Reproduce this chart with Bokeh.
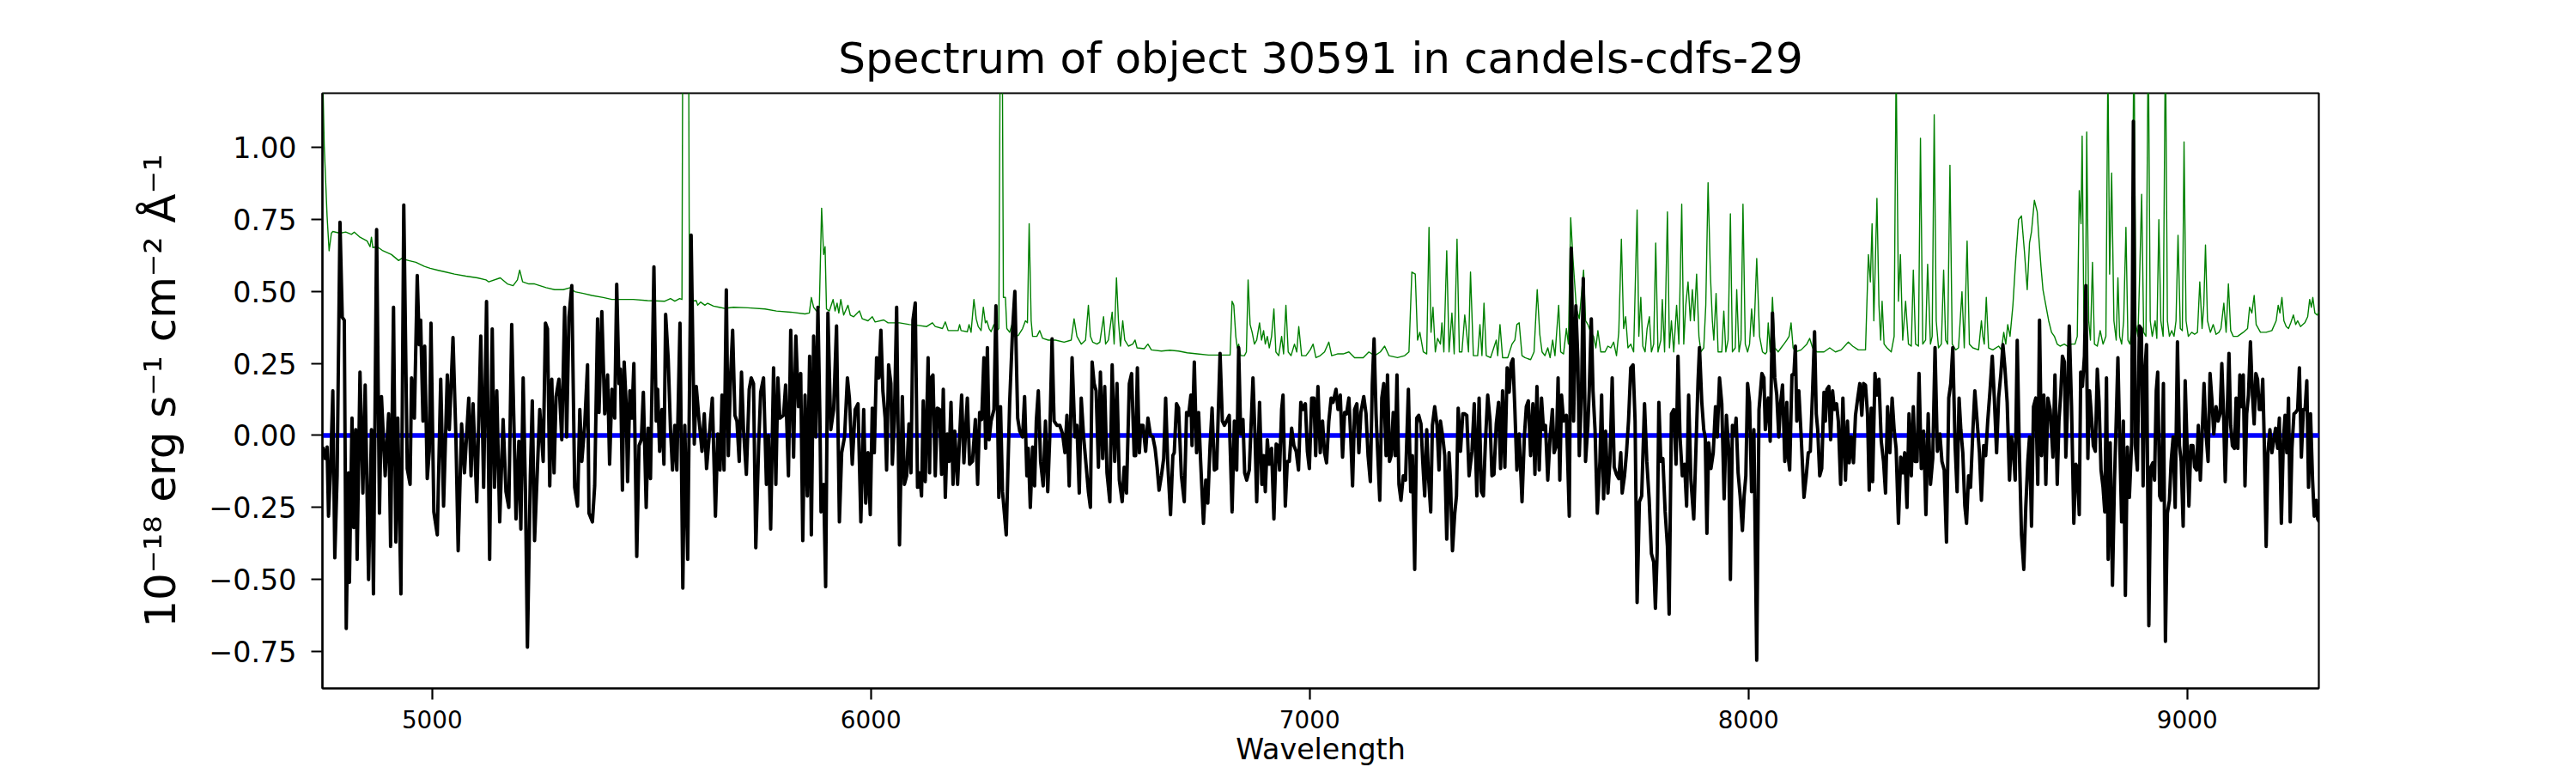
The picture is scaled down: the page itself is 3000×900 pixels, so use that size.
from bokeh.plotting import figure
from bokeh.models import Range1d, FixedTicker
from bokeh.embed import file_html
from bokeh.resources import INLINE

title_text = "Spectrum of object 30591 in candels-cdfs-29"
x_label = "Wavelength"
y_label = "10⁻¹⁸ erg s⁻¹ cm⁻² Å⁻¹"
x_ticks = [5000, 6000, 7000, 8000, 9000]
y_ticks = [-0.75, -0.5, -0.25, 0.0, 0.25, 0.5, 0.75, 1.0]
y_tick_labels = ["−0.75", "−0.50", "−0.25", "0.00", "0.25", "0.50", "0.75", "1.00"]
zero_level = 0.0

# ---- object flux (black), segment by segment ----
wave_b1 = [4750.8, 4756.1, 4760.6, 4763.9, 4769.1, 4773.7, 4778.2, 4783.5, 4790.0, 4795.2,
           4799.8, 4804.3, 4809.6, 4811.5, 4817.4, 4821.3, 4825.9, 4829.1, 4835.6, 4842.2,
           4847.4, 4855.2, 4861.7, 4866.3, 4873.5, 4880.0, 4884.6, 4893.0, 4900.9, 4905.4,
           4912.0, 4917.2, 4921.7, 4928.9, 4935.4, 4943.3, 4949.8, 4953.1, 4959.6, 4966.1,
           4970.7, 4973.9, 4979.2, 4983.1, 4988.9, 4993.5, 4997.4, 5003.9, 5011.8, 5019.6,
           5026.1, 5034.6, 5039.2, 5047.6, 5054.2, 5059.4, 5067.2, 5073.7, 5083.5, 5088.7,
           5093.3, 5101.8, 5110.9, 5117.4, 5124.0, 5131.1, 5137.0, 5142.2, 5147.4, 5154.0,
           5161.8, 5168.3, 5174.8, 5181.4, 5187.9, 5191.2, 5197.7, 5202.2, 5207.5, 5212.7,
           5217.2, 5223.8, 5228.3, 5233.5, 5240.1, 5245.3, 5253.1, 5258.3, 5262.9, 5268.1,
           5272.7, 5277.9, 5282.5, 5289.0, 5295.5, 5302.0, 5306.6, 5311.8, 5318.3, 5324.9,
           5331.4, 5336.6, 5341.2, 5347.7, 5354.2, 5357.5, 5365.3, 5370.5, 5377.1, 5380.3,
           5386.8, 5393.4, 5399.9, 5404.5, 5409.7]
flux_b1 = [-0.04, -0.08, -0.04, -0.28, -0.09, 0.155, -0.425, -0.14, 0.74, 0.41,
           0.40, -0.67, -0.13, -0.51, 0.06, -0.32, 0.02, -0.43, 0.22, -0.20,
           0.175, -0.50, 0.02, -0.55, 0.715, -0.27, 0.135, -0.14, 0.075, -0.385,
           0.445, -0.37, 0.06, -0.55, 0.80, -0.115, -0.17, 0.20, 0.06, 0.555,
           0.315, 0.40, 0.05, 0.31, -0.15, -0.055, 0.39, -0.265, -0.345, 0.195,
           -0.245, 0.21, 0.02, 0.34, -0.005, -0.40, 0.04, -0.13, 0.13, -0.14,
           0.11, -0.23, 0.345, -0.18, 0.465, -0.43, 0.37, -0.18, 0.155, -0.30,
           0.055, -0.195, -0.25, 0.385, -0.06, -0.29, -0.02, -0.325, 0.20, -0.195,
           -0.735, -0.14, 0.12, -0.365, -0.11, 0.09, -0.09, 0.39, 0.37, -0.175,
           0.195, -0.13, 0.135, 0.195, -0.015, 0.445, -0.005, 0.41, 0.52, -0.18,
           -0.245, 0.09, -0.09, 0.035, 0.245, -0.27, -0.30, -0.175, 0.405, 0.08,
           0.43, 0.075, 0.21, -0.10, 0.16]

wave_b2 = [5416.1, 5420.7, 5425.9, 5429.2, 5433.7, 5437.7, 5442.2, 5445.5, 5450.7, 5455.3,
           5459.8, 5466.4, 5471.6, 5476.8, 5481.4, 5487.9, 5492.4, 5497.7, 5505.5, 5510.7,
           5514.0, 5518.5, 5523.8, 5528.3, 5532.2, 5538.1, 5543.3, 5547.9, 5553.1, 5557.7,
           5564.9, 5571.4, 5575.9, 5582.5, 5590.3, 5597.5, 5602.0, 5608.6, 5615.1, 5620.3,
           5625.5, 5631.4, 5638.6, 5645.7, 5651.0, 5656.2, 5660.7, 5665.3, 5670.5, 5675.1,
           5680.3, 5684.9, 5690.1, 5694.7, 5699.9, 5705.1, 5709.7, 5716.2, 5722.7, 5727.3,
           5732.5, 5737.7, 5744.2, 5748.8, 5755.3, 5761.9, 5766.4, 5771.6, 5778.2, 5783.4,
           5788.0, 5792.5, 5801.0, 5805.6, 5812.1, 5817.3, 5823.8, 5829.0, 5834.9, 5840.1,
           5844.7, 5849.9, 5855.1, 5860.4, 5864.3, 5869.5, 5874.7, 5879.3, 5883.8, 5886.4,
           5892.3, 5896.9, 5902.1, 5908.6, 5915.1, 5921.7, 5928.2, 5933.4, 5940.0, 5946.5,
           5951.0, 5957.5, 5964.1, 5970.6, 5977.1, 5983.6, 5988.2, 5993.4, 5998.6, 6003.2,
           6007.8, 6013.0, 6018.2, 6022.8, 6027.3, 6032.5, 6035.8, 6040.4, 6045.6, 6048.9,
           6053.4, 6058.7, 6065.2]
flux_b2 = [0.06, 0.525, 0.18, 0.23, -0.19, 0.255, 0.11, -0.16, 0.155, 0.06,
           0.25, -0.42, -0.035, -0.015, 0.15, -0.25, 0.025, -0.15, 0.585, 0.05,
           0.16, -0.055, 0.09, -0.10, 0.42, 0.265, 0.02, -0.12, 0.035, -0.12,
           0.39, -0.53, 0.035, -0.43, 0.695, -0.03, 0.17, 0.05, -0.055, 0.075,
           -0.115, -0.005, 0.13, -0.28, 0.005, -0.12, 0.14, -0.12, 0.505, -0.07,
           0.21, 0.365, 0.07, 0.05, -0.09, 0.22, 0.02, -0.135, 0.16, 0.20,
           0.18, -0.39, -0.035, 0.15, 0.20, -0.17, 0.0, -0.325, 0.235, -0.17,
           0.20, 0.06, 0.07, 0.175, -0.14, 0.365, -0.075, 0.345, 0.10, 0.215,
           -0.365, 0.14, -0.21, 0.275, -0.345, 0.345, -0.005, 0.445, 0.06, -0.265,
           -0.17, -0.525, 0.425, 0.02, 0.09, 0.38, -0.30, -0.06, -0.005, 0.20,
           0.13, -0.10, 0.09, 0.11, -0.30, 0.09, -0.235, -0.06, -0.275, 0.095,
           -0.06, 0.27, 0.20, 0.365, 0.155, 0.06, -0.12, 0.245, 0.18, -0.10,
           0.05, 0.445, -0.38]

wave_b3 = [6071.7, 6076.3, 6081.5, 6086.7, 6091.3, 6095.9, 6101.1, 6106.3, 6110.9, 6115.4,
           6119.3, 6123.9, 6130.4, 6133.7, 6137.0, 6141.5, 6146.7, 6151.3, 6156.5, 6161.1,
           6165.0, 6169.6, 6174.1, 6178.1, 6182.6, 6187.2, 6191.1, 6197.6, 6202.2, 6206.8,
           6212.0, 6219.8, 6225.0, 6231.5, 6238.1, 6243.3, 6247.9, 6252.4, 6257.6, 6261.6,
           6265.5, 6269.4, 6273.9, 6280.5, 6285.0, 6291.6, 6295.5, 6300.0, 6308.5, 6316.3,
           6322.9, 6328.1, 6334.6, 6339.2, 6345.7, 6350.3, 6355.5, 6358.7, 6363.3, 6368.5,
           6373.1, 6377.0, 6381.6, 6386.8, 6392.7, 6397.9, 6403.1, 6407.7, 6412.9, 6417.5,
           6424.0, 6430.5, 6437.0, 6442.2, 6446.8, 6452.0, 6458.5, 6465.1, 6469.6, 6474.9,
           6479.4, 6484.6, 6491.2, 6495.7, 6500.3, 6504.2, 6508.8, 6513.3, 6518.6, 6523.1,
           6528.3, 6532.9, 6538.1, 6544.6, 6549.9, 6555.7, 6560.9, 6566.2, 6572.7, 6577.3,
           6582.5, 6589.0, 6594.2, 6600.1, 6603.4, 6607.3, 6611.8, 6615.1, 6620.3, 6626.2,
           6631.4, 6637.3, 6642.5, 6647.7, 6652.3, 6656.8, 6662.1, 6667.3, 6671.8, 6676.4,
           6682.9, 6688.2, 6691.4, 6696.6, 6701.2, 6707.7, 6714.2, 6719.5]
flux_b3 = [0.135, -0.17, -0.14, 0.04, -0.13, 0.40, 0.46, -0.18, -0.13, -0.21,
           0.12, -0.16, 0.27, -0.13, 0.20, 0.21, -0.14, 0.095, 0.09, -0.135,
           0.16, -0.215, 0.005, -0.09, 0.115, -0.17, 0.015, -0.17, -0.005, 0.14,
           -0.095, 0.13, -0.10, -0.09, 0.055, -0.17, 0.08, 0.055, 0.27, -0.045,
           0.305, -0.015, 0.05, 0.09, 0.45, -0.215, 0.10, -0.195, -0.345, 0.115,
           0.365, 0.50, 0.06, 0.015, -0.005, 0.135, -0.14, -0.045, -0.25, -0.04,
           -0.175, 0.05, 0.155, -0.09, -0.175, 0.05, -0.195, -0.005, 0.335, 0.05,
           0.035, 0.035, 0.005, -0.06, 0.07, -0.175, 0.27, -0.005, 0.035, -0.20,
           0.13, 0.0, -0.115, -0.195, -0.25, 0.255, 0.18, 0.155, -0.11, 0.22,
           -0.08, 0.17, -0.13, -0.23, 0.245, -0.09, 0.18, -0.155, -0.23, -0.11,
           -0.20, 0.18, 0.215, -0.07, -0.07, 0.235, -0.06, 0.035, 0.035, -0.055,
           0.06, 0.0, -0.005, -0.045, -0.11, -0.19, -0.14, -0.08, 0.13, -0.09,
           -0.275, -0.07, -0.06, 0.11, 0.095, -0.14, -0.23, 0.08]

wave_b4 = [6724.1, 6729.3, 6731.9, 6737.1, 6742.3, 6746.9, 6751.5, 6758.0, 6763.2, 6767.8,
           6773.0, 6777.6, 6782.8, 6788.0, 6795.8, 6801.0, 6805.6, 6812.1, 6816.7, 6823.2,
           6828.4, 6833.7, 6838.2, 6842.8, 6848.0, 6851.9, 6856.5, 6862.4, 6870.8, 6875.4,
           6879.3, 6885.8, 6891.1, 6895.0, 6898.9, 6903.5, 6908.0, 6913.2, 6918.5, 6923.7,
           6927.6, 6931.5, 6936.1, 6939.3, 6944.5, 6949.1, 6953.7, 6958.9, 6964.1, 6969.3,
           6974.6, 6979.8, 6985.0, 6990.2, 6994.8, 6999.3, 7004.6, 7009.8, 7013.7, 7018.9,
           7024.1, 7029.3, 7033.9, 7038.5, 7043.7, 7048.9, 7053.5, 7060.0, 7064.6, 7069.8,
           7075.0, 7079.6, 7084.1, 7089.4, 7093.3, 7097.8, 7102.4, 7107.6, 7112.2, 7116.8,
           7123.3, 7128.5, 7133.1, 7138.3, 7142.8, 7146.8, 7151.3, 7155.9, 7159.8, 7164.4,
           7168.9, 7174.2, 7177.4, 7182.0, 7185.9, 7190.5, 7195.0, 7199.0, 7203.5, 7208.1,
           7213.3, 7218.5, 7225.0, 7230.3, 7234.2, 7239.4, 7244.0, 7248.5, 7253.7, 7257.7,
           7262.2, 7266.8, 7270.7, 7275.9, 7279.8, 7285.0, 7290.3, 7294.8, 7298.1, 7303.3,
           7307.9, 7312.4, 7317.7, 7320.9, 7325.5, 7330.7, 7334.6, 7338.5, 7343.8, 7349.0,
           7353.5, 7358.1, 7363.3, 7369.9, 7375.1]
flux_b4 = [0.07, 0.14, -0.035, 0.255, -0.06, 0.08, -0.09, -0.305, -0.155, -0.235,
           -0.035, 0.095, -0.12, -0.115, 0.285, 0.05, 0.035, 0.055, 0.07, -0.265,
           0.05, -0.12, 0.305, 0.005, 0.055, -0.13, -0.155, -0.12, 0.20, 0.0,
           -0.23, 0.115, -0.17, -0.07, -0.195, -0.015, -0.10, -0.045, -0.29, -0.03,
           -0.035, -0.12, 0.09, 0.14, -0.245, -0.09, -0.09, 0.025, -0.035, -0.055,
           -0.12, 0.115, 0.09, 0.11, -0.055, -0.115, 0.13, 0.13, -0.07, 0.17,
           -0.06, 0.05, -0.06, -0.095, 0.05, 0.13, 0.115, 0.16, 0.09, 0.14,
           -0.075, 0.08, 0.075, 0.13, 0.005, -0.175, 0.09, 0.11, -0.06, 0.08,
           0.135, 0.075, -0.07, -0.16, 0.18, 0.335, 0.075, -0.09, -0.225, 0.13,
           0.18, -0.07, 0.21, -0.09, -0.07, 0.08, -0.07, 0.21, -0.17, -0.225,
           -0.14, -0.155, 0.16, -0.195, -0.07, -0.465, 0.06, 0.07, 0.04, -0.09,
           -0.21, 0.02, -0.14, -0.265, 0.035, 0.10, 0.035, -0.12, 0.05, -0.005,
           -0.07, -0.36, -0.06, -0.155, -0.40, -0.27, -0.21, 0.095, -0.055, 0.075,
           0.075, 0.07, -0.14, -0.055, 0.11]

wave_b5 = [7381.0, 7386.2, 7391.4, 7396.0, 7400.5, 7405.8, 7411.0, 7415.5, 7420.1, 7425.3,
           7430.5, 7435.1, 7439.7, 7444.9, 7450.1, 7454.7, 7459.2, 7463.2, 7467.7, 7472.3,
           7477.5, 7484.0, 7489.3, 7493.8, 7498.4, 7503.6, 7508.8, 7513.4, 7518.0, 7523.2,
           7528.4, 7533.0, 7537.5, 7542.7, 7548.0, 7553.2, 7557.1, 7562.3, 7566.2, 7570.1,
           7574.1, 7578.6, 7585.1, 7591.7, 7596.2, 7601.5, 7606.7, 7611.2, 7614.5, 7619.7,
           7623.6, 7628.8, 7634.1, 7637.3, 7641.9, 7645.8, 7650.4, 7655.6, 7661.5, 7665.4,
           7669.9, 7674.5, 7679.7, 7684.3, 7689.5, 7694.1, 7699.3, 7704.5, 7709.1, 7712.3,
           7717.6, 7722.1, 7726.7, 7731.9, 7737.1, 7741.7, 7746.3, 7751.5, 7756.7, 7763.2,
           7768.4, 7773.7, 7778.9, 7784.1, 7788.0, 7791.9, 7795.8, 7800.4, 7805.0, 7810.2,
           7815.4, 7819.3, 7824.5, 7829.8, 7835.0, 7839.5, 7844.1, 7849.3, 7854.5, 7859.1,
           7863.7, 7868.9, 7875.4, 7880.6, 7885.2, 7888.5, 7893.7, 7898.2, 7901.5, 7905.4,
           7909.3, 7914.6, 7919.8, 7925.0, 7928.9, 7934.1, 7939.3, 7944.6, 7949.8, 7955.0,
           7958.9, 7963.5, 7968.0, 7971.9, 7976.5, 7981.1, 7986.3, 7990.2, 7994.1, 7998.1,
           8002.6, 8007.2, 8012.4, 8018.9, 8024.1, 8030.7]
flux_b5 = [-0.21, 0.13, -0.195, -0.21, -0.025, 0.14, 0.055, -0.14, -0.135, 0.04,
           0.115, -0.115, 0.155, -0.11, 0.235, 0.15, 0.25, 0.265, 0.09, -0.12,
           0.005, -0.23, -0.005, 0.10, 0.12, -0.07, 0.11, -0.135, 0.17, -0.12,
           0.13, 0.02, 0.035, -0.155, -0.005, 0.09, -0.06, -0.035, 0.20, -0.155,
           0.14, 0.05, 0.07, -0.28, 0.65, 0.05, 0.45, 0.265, -0.07, 0.155,
           0.545, -0.09, 0.035, 0.16, 0.405, 0.155, 0.02, -0.27, -0.09, 0.14,
           -0.22, 0.015, -0.20, -0.09, 0.20, -0.11, -0.135, -0.15, -0.06, -0.20,
           -0.14, -0.06, 0.05, 0.235, 0.245, 0.05, -0.58, -0.23, -0.21, 0.11,
           -0.09, -0.22, -0.41, -0.44, -0.60, -0.41, 0.115, -0.09, -0.08, -0.265,
           -0.385, -0.62, 0.075, 0.09, -0.10, 0.275, -0.005, -0.14, -0.10, -0.245,
           0.14, -0.155, -0.29, -0.035, 0.19, 0.305, 0.115, 0.02, -0.005, -0.34,
           -0.025, -0.115, -0.06, 0.10, -0.005, 0.20, 0.11, -0.22, 0.07, -0.045,
           -0.50, 0.035, 0.0, 0.06, -0.13, -0.21, -0.33, -0.21, -0.14, 0.18,
           0.115, -0.195, 0.02, -0.78, 0.09, 0.215]

wave_b6 = [8035.3, 8038.5, 8041.8, 8045.1, 8049.6, 8054.8, 8060.1, 8064.6, 8069.2, 8073.1,
           8077.7, 8082.9, 8087.5, 8090.7, 8094.0, 8099.2, 8103.8, 8107.0, 8110.3, 8114.9,
           8120.1, 8126.6, 8131.8, 8136.4, 8141.0, 8146.2, 8150.7, 8154.6, 8157.9, 8162.5,
           8167.0, 8172.2, 8175.5, 8178.8, 8183.3, 8187.3, 8191.8, 8195.7, 8200.9, 8204.9,
           8210.1, 8215.3, 8221.2, 8225.7, 8229.7, 8234.2, 8239.4, 8244.0, 8249.2, 8253.8,
           8258.4, 8262.3, 8266.8, 8271.4, 8275.3, 8279.9, 8283.1, 8288.4, 8292.9, 8297.5,
           8302.7, 8307.9, 8312.5, 8317.1, 8322.3, 8327.5, 8332.1, 8336.6, 8341.9, 8347.1,
           8351.6, 8356.2, 8361.4, 8366.0, 8371.2, 8375.8, 8379.7, 8384.3, 8388.8, 8394.0,
           8399.3, 8404.5, 8409.7, 8414.9, 8420.1, 8425.3, 8430.6, 8436.4, 8441.0, 8446.2,
           8451.4, 8456.6, 8461.2, 8465.8, 8471.0, 8475.6, 8480.1, 8484.1, 8488.6, 8493.2,
           8497.1, 8501.7, 8506.2, 8511.5, 8516.0, 8521.2, 8526.5, 8531.0, 8536.2, 8540.8,
           8545.4, 8550.6, 8555.8, 8560.4, 8565.6, 8570.2, 8575.4, 8580.0, 8584.5, 8589.7,
           8595.0, 8599.5, 8604.1, 8608.0, 8612.6, 8617.1, 8622.3, 8627.6, 8632.1, 8636.7,
           8640.6, 8645.2, 8649.7, 8654.9, 8659.5, 8663.4, 8668.0, 8673.2, 8677.8, 8682.4,
           8687.6]
flux_b6 = [0.20, 0.02, 0.09, 0.13, -0.02, 0.425, 0.20, 0.14, -0.005, 0.11,
           0.175, -0.09, 0.115, -0.075, -0.12, 0.21, 0.215, 0.31, 0.05, 0.155,
           0.0, -0.215, -0.14, -0.06, -0.055, 0.155, 0.36, 0.075, 0.02, -0.14,
           -0.115, 0.15, 0.05, 0.16, 0.17, -0.015, 0.155, 0.09, 0.11, 0.05,
           -0.17, 0.13, -0.155, 0.05, -0.095, -0.005, -0.095, 0.07, 0.13, 0.18,
           0.07, 0.18, 0.175, 0.075, -0.19, 0.095, -0.16, 0.215, 0.14, 0.195,
           -0.02, -0.09, -0.20, 0.10, -0.06, 0.13, 0.02, -0.045, -0.305, -0.075,
           -0.13, -0.06, -0.25, 0.075, -0.14, 0.10, -0.09, -0.09, 0.215, -0.115,
           0.015, -0.275, 0.075, -0.17, -0.08, 0.305, -0.055, 0.005, -0.09, -0.12,
           -0.37, 0.13, 0.18, 0.305, -0.035, -0.195, 0.13, 0.02, -0.06, -0.245,
           -0.305, -0.14, -0.18, 0.015, 0.155, 0.05, -0.06, -0.225, -0.035, -0.07,
           0.05, 0.155, 0.275, 0.13, -0.06, 0.13, 0.215, 0.315, 0.235, 0.115,
           -0.155, -0.005, -0.06, -0.155, 0.33, -0.03, -0.345, -0.465, -0.25, -0.09,
           -0.005, -0.315, 0.10, 0.13, -0.17, 0.40, -0.07, 0.14, -0.17, 0.13,
           0.09]

wave_b7 = [8694.0, 8698.6, 8703.8, 8707.7, 8711.6, 8715.6, 8720.1, 8723.4, 8726.6, 8731.2,
           8736.4, 8741.6, 8746.2, 8749.5, 8754.0, 8757.3, 8761.2, 8765.8, 8769.0, 8773.6,
           8777.5, 8782.1, 8786.0, 8790.6, 8795.1, 8799.1, 8803.6, 8808.2, 8812.1, 8816.0,
           8819.9, 8824.5, 8829.7, 8834.3, 8838.2, 8842.1, 8846.0, 8850.6, 8854.5, 8859.1,
           8863.6, 8868.2, 8873.4, 8877.3, 8881.9, 8886.5, 8891.0, 8895.6, 8899.5, 8903.4,
           8907.3, 8912.6, 8917.1, 8921.7, 8925.6, 8929.5, 8932.8, 8937.3, 8941.3, 8945.8,
           8950.4, 8954.9, 8959.5, 8963.4, 8968.0, 8972.6, 8977.8, 8982.3, 8986.3, 8990.8,
           8995.4, 8999.9, 9003.9, 9008.4, 9013.0, 9016.9, 9021.5, 9025.4, 9030.0, 9034.5,
           9038.4, 9043.0, 9047.6, 9052.1, 9056.1, 9060.6, 9065.8, 9070.4, 9075.0, 9078.9,
           9082.8, 9086.7, 9090.6, 9095.2, 9099.1, 9103.0, 9107.6, 9111.5, 9115.4, 9120.0,
           9124.6, 9127.8, 9131.7, 9135.6, 9139.6, 9144.1, 9148.7, 9152.6, 9156.5, 9160.4,
           9164.3, 9168.3, 9172.2, 9175.4, 9180.0, 9183.9, 9188.5, 9193.0, 9196.9, 9201.5,
           9206.1, 9210.0, 9214.6, 9219.1, 9223.0, 9227.0, 9230.9, 9234.8, 9238.7, 9243.3,
           9247.2, 9251.7, 9255.7, 9260.2, 9264.8, 9268.7, 9272.6, 9276.5, 9281.1, 9285.7,
           9289.6, 9294.2, 9297.4, 9301.0]
flux_b7 = [-0.075, 0.21, -0.17, 0.05, 0.14, 0.275, 0.255, -0.075, 0.075, 0.38,
           0.10, -0.305, -0.10, -0.11, -0.275, 0.22, 0.17, 0.275, 0.52, -0.08,
           0.155, 0.06, -0.035, -0.055, 0.23, 0.115, -0.12, -0.18, -0.265, 0.20,
           -0.43, -0.025, -0.52, -0.155, 0.05, 0.27, 0.0, -0.30, 0.05, -0.555,
           -0.04, -0.215, -0.025, 1.09, -0.035, -0.12, 0.38, 0.37, -0.175, 0.22,
           0.315, -0.66, -0.11, -0.095, -0.155, 0.155, 0.22, -0.21, -0.225, 0.18,
           -0.715, -0.27, -0.225, -0.09, -0.005, -0.25, 0.325, -0.035, -0.09, -0.315,
           0.19, -0.045, -0.245, -0.035, -0.035, -0.11, -0.12, 0.035, -0.155, 0.02,
           0.18, 0.005, -0.09, 0.215, 0.13, 0.005, 0.10, 0.05, 0.075, 0.25,
           0.08, -0.16, 0.05, 0.285, 0.035, -0.035, -0.045, 0.13, -0.045, 0.21,
           0.10, 0.21, -0.175, 0.075, 0.14, 0.325, 0.14, 0.04, 0.215, 0.195,
           0.09, 0.09, 0.195, -0.005, -0.385, -0.06, 0.02, -0.06, -0.02, 0.025,
           -0.045, 0.06, -0.305, -0.02, 0.07, -0.06, 0.13, -0.30, -0.045, 0.075,
           0.08, 0.09, 0.235, -0.075, 0.09, 0.09, 0.19, -0.18, 0.075, -0.155,
           -0.28, -0.225, -0.29, -0.30]

# ---- sky / noise spectrum (green) ----
wave_g1 = [4750.8, 4754.1, 4760.6, 4765.2, 4770.4, 4773.7, 4790.0, 4803.0, 4816.1, 4822.6,
           4835.6, 4851.9, 4858.5, 4861.7, 4865.0, 4874.8, 4887.8, 4907.4, 4923.7, 4930.2,
           4946.5, 4962.9, 4982.4, 4995.5, 5011.8, 5031.3, 5050.9, 5077.0, 5103.1, 5122.7,
           5129.2, 5155.3, 5171.6, 5184.6, 5194.4, 5199.6, 5206.2, 5220.5, 5233.5, 5259.6,
           5279.2, 5298.8, 5315.1, 5324.9, 5344.4, 5364.0, 5390.1, 5409.7]
flux_g1 = [1.25, 1.005, 0.762, 0.641, 0.702, 0.708, 0.702, 0.706, 0.698, 0.706,
           0.688, 0.675, 0.655, 0.688, 0.652, 0.655, 0.641, 0.628, 0.607, 0.614,
           0.607, 0.601, 0.587, 0.580, 0.574, 0.567, 0.560, 0.553, 0.547, 0.540,
           0.533, 0.547, 0.526, 0.520, 0.540, 0.574, 0.533, 0.526, 0.526, 0.513,
           0.506, 0.506, 0.513, 0.499, 0.493, 0.486, 0.479, 0.472]

wave_g2 = [5419.4, 5458.5, 5491.1, 5530.3, 5543.3, 5553.1, 5564.2, 5569.4, 5573.3, 5582.5,
           5586.4, 5602.0, 5605.3, 5611.8, 5621.6, 5628.1, 5641.2, 5654.2, 5667.3, 5686.8,
           5719.5, 5758.6, 5784.7, 5817.3, 5849.9, 5859.7, 5864.3, 5869.5, 5876.0, 5882.5,
           5887.7, 5892.3, 5895.6, 5898.8, 5905.4, 5913.8, 5918.4, 5923.0, 5926.9, 5931.4,
           5938.0, 5947.8, 5953.0, 5960.8, 5973.9, 5980.4, 5993.4, 6003.2, 6009.7, 6029.3,
           6039.1, 6065.2]
flux_g2 = [0.472, 0.472, 0.468, 0.466, 0.475, 0.466, 0.475, 0.472, 2.5, 2.5,
           0.466, 0.468, 0.452, 0.463, 0.452, 0.459, 0.449, 0.445, 0.441, 0.445,
           0.443, 0.439, 0.432, 0.428, 0.422, 0.425, 0.479, 0.445, 0.432, 0.445,
           0.789, 0.628, 0.655, 0.439, 0.432, 0.472, 0.432, 0.459, 0.425, 0.472,
           0.418, 0.452, 0.418, 0.412, 0.432, 0.405, 0.398, 0.412, 0.394, 0.401,
           0.391, 0.391]

wave_g3 = [6088.0, 6107.6, 6127.2, 6140.2, 6146.7, 6163.1, 6169.6, 6176.1, 6198.9, 6202.2,
           6205.5, 6219.8, 6223.7, 6228.3, 6234.8, 6240.0, 6244.6, 6251.1, 6256.3, 6260.9,
           6264.2, 6269.4, 6273.9, 6280.5, 6287.0, 6291.6, 6295.5, 6298.7, 6302.0, 6306.6,
           6309.8, 6316.3, 6321.6, 6326.1, 6335.9, 6345.7, 6352.2, 6356.8, 6360.7, 6365.3,
           6368.5, 6378.3, 6384.8, 6391.4, 6404.4, 6420.7, 6440.3, 6456.6, 6463.1, 6469.6,
           6479.4, 6489.2, 6495.7, 6500.3, 6505.5, 6515.3, 6521.8, 6530.3, 6534.9, 6541.4,
           6549.9, 6554.4, 6559.7, 6564.2, 6568.8, 6574.0, 6578.6, 6587.0, 6596.8, 6602.1,
           6606.6, 6622.9, 6631.4, 6639.2, 6662.1, 6681.6, 6701.2, 6720.8]
flux_g3 = [0.385, 0.382, 0.378, 0.391, 0.378, 0.371, 0.394, 0.364, 0.364, 0.385,
           0.364, 0.360, 0.385, 0.358, 0.472, 0.405, 0.378, 0.364, 0.445, 0.391,
           0.398, 0.371, 0.360, 0.385, 0.364, 0.371, 1.6, 1.6, 0.479, 0.479,
           0.371, 0.358, 0.385, 0.344, 0.347, 0.371, 0.398, 0.391, 0.735, 0.398,
           0.344, 0.344, 0.364, 0.337, 0.331, 0.331, 0.324, 0.331, 0.405, 0.344,
           0.317, 0.331, 0.452, 0.344, 0.324, 0.317, 0.324, 0.412, 0.317, 0.331,
           0.428, 0.317, 0.547, 0.398, 0.310, 0.398, 0.331, 0.310, 0.317, 0.331,
           0.304, 0.301, 0.317, 0.297, 0.293, 0.296, 0.293, 0.287]

wave_g4 = [6743.6, 6769.7, 6789.3, 6818.7, 6823.2, 6827.1, 6831.7, 6835.0, 6838.2, 6842.8,
           6851.3, 6855.8, 6859.7, 6864.3, 6868.9, 6874.1, 6879.3, 6885.8, 6890.4, 6895.0,
           6898.9, 6903.5, 6908.0, 6913.2, 6918.5, 6923.0, 6929.5, 6936.1, 6940.6, 6945.9,
           6951.1, 6957.6, 6965.4, 6970.6, 6975.2, 6981.7, 6991.5, 7001.3, 7007.8, 7014.3,
           7024.1, 7033.9, 7043.7, 7050.2, 7063.3, 7076.3, 7089.4, 7102.4, 7122.0, 7135.0,
           7148.1, 7161.1, 7170.9, 7180.7, 7200.2, 7216.6, 7226.3, 7232.9, 7240.7, 7245.9,
           7251.1, 7259.0, 7266.8, 7272.0, 7276.6, 7281.1, 7286.4, 7291.6, 7298.1, 7301.4,
           7305.9, 7312.4, 7317.7, 7324.2, 7329.4, 7335.9, 7341.2, 7347.0, 7353.5, 7356.8,
           7362.0, 7366.6, 7373.1]
flux_g4 = [0.283, 0.279, 0.279, 0.279, 0.466, 0.452, 0.344, 0.304, 0.317, 0.277,
           0.277, 0.290, 0.540, 0.385, 0.358, 0.317, 0.331, 0.391, 0.331, 0.364,
           0.317, 0.344, 0.304, 0.344, 0.439, 0.290, 0.277, 0.344, 0.283, 0.452,
           0.290, 0.277, 0.317, 0.290, 0.378, 0.277, 0.277, 0.297, 0.317, 0.270,
           0.277, 0.290, 0.324, 0.277, 0.283, 0.283, 0.290, 0.270, 0.270, 0.290,
           0.277, 0.290, 0.310, 0.277, 0.270, 0.277, 0.290, 0.567, 0.560, 0.331,
           0.358, 0.290, 0.283, 0.722, 0.358, 0.445, 0.290, 0.337, 0.317, 0.391,
           0.290, 0.641, 0.290, 0.425, 0.283, 0.681, 0.290, 0.290, 0.418, 0.371,
           0.290, 0.567, 0.277]

wave_g5 = [7376.4, 7382.9, 7388.1, 7392.7, 7397.3, 7402.5, 7412.3, 7425.3, 7428.6, 7433.8,
           7439.7, 7451.4, 7461.2, 7467.7, 7472.3, 7477.5, 7484.0, 7490.6, 7503.6, 7511.4,
           7518.6, 7524.5, 7529.7, 7536.2, 7542.7, 7548.0, 7553.8, 7559.1, 7567.5, 7572.1,
           7578.6, 7585.1, 7589.7, 7594.9, 7600.1, 7608.0, 7614.5, 7619.7, 7624.3, 7628.8,
           7634.1, 7640.6, 7647.1, 7652.3, 7656.9, 7663.4, 7673.2, 7679.7, 7686.3, 7692.8,
           7699.3, 7704.5, 7710.4, 7715.6, 7720.2, 7725.4, 7731.9, 7738.4, 7746.3, 7750.2,
           7754.7, 7759.3, 7764.5, 7769.1, 7774.3, 7778.9, 7784.1, 7788.7, 7793.9, 7800.4,
           7803.7, 7808.9, 7815.4, 7820.0, 7824.5, 7829.8, 7836.3, 7841.5, 7848.0, 7852.6,
           7857.2, 7862.4, 7867.6, 7872.2, 7876.7, 7881.9, 7887.2, 7891.7, 7898.2, 7902.8,
           7908.0, 7913.3, 7917.8, 7921.1, 7926.3, 7930.9, 7939.3, 7943.9, 7948.5, 7953.7,
           7958.9, 7963.5, 7970.0, 7973.3, 7978.5, 7983.1, 7987.6, 7992.8, 7998.1, 8002.6,
           8007.2, 8012.4, 8018.9, 8025.4, 8032.0]
flux_g5 = [0.277, 0.277, 0.385, 0.277, 0.459, 0.277, 0.270, 0.331, 0.277, 0.385,
           0.270, 0.270, 0.317, 0.331, 0.385, 0.391, 0.277, 0.270, 0.263, 0.290,
           0.506, 0.351, 0.290, 0.277, 0.304, 0.270, 0.331, 0.277, 0.452, 0.290,
           0.283, 0.371, 0.317, 0.756, 0.614, 0.439, 0.405, 0.493, 0.574, 0.398,
           0.385, 0.358, 0.344, 0.304, 0.364, 0.290, 0.290, 0.310, 0.304, 0.324,
           0.277, 0.358, 0.681, 0.371, 0.412, 0.304, 0.317, 0.290, 0.783, 0.344,
           0.479, 0.310, 0.290, 0.371, 0.412, 0.290, 0.317, 0.668, 0.290, 0.331,
           0.472, 0.290, 0.776, 0.304, 0.398, 0.290, 0.452, 0.317, 0.803, 0.317,
           0.452, 0.533, 0.398, 0.506, 0.398, 0.560, 0.344, 0.290, 0.304, 0.452,
           0.877, 0.560, 0.398, 0.331, 0.493, 0.290, 0.290, 0.432, 0.290, 0.331,
           0.769, 0.290, 0.304, 0.506, 0.290, 0.331, 0.803, 0.317, 0.290, 0.317,
           0.439, 0.344, 0.614, 0.344, 0.290]

wave_g6 = [8038.5, 8041.8, 8045.1, 8049.6, 8054.8, 8060.1, 8067.9, 8074.4, 8080.9, 8087.5,
           8092.7, 8097.2, 8101.8, 8107.0, 8120.1, 8133.1, 8139.6, 8146.2, 8155.9, 8172.2,
           8185.3, 8198.3, 8211.4, 8227.7, 8237.5, 8250.5, 8266.8, 8273.4, 8277.9, 8281.8,
           8285.8, 8289.7, 8292.9, 8297.5, 8301.4, 8304.7, 8309.2, 8315.8, 8325.5, 8332.1,
           8336.6, 8341.9, 8346.4, 8351.6, 8358.2, 8364.7, 8371.2, 8375.8, 8381.0, 8387.5,
           8392.1, 8397.3, 8403.8, 8408.4, 8414.9, 8418.8, 8423.4, 8428.0, 8433.2, 8439.7,
           8444.9, 8449.5, 8454.0, 8459.3, 8464.5, 8472.3, 8478.8, 8486.7, 8491.9, 8498.4,
           8503.6, 8511.5, 8524.5, 8531.0, 8534.3, 8537.5, 8542.1, 8547.3, 8557.1, 8570.2,
           8576.7, 8581.9, 8586.5, 8591.0, 8596.2, 8602.8, 8609.3, 8615.8, 8622.3, 8628.9,
           8635.4, 8640.6, 8645.2, 8651.7, 8658.2, 8661.5, 8666.7, 8671.3, 8677.8, 8684.3,
           8690.8]
flux_g6 = [0.283, 0.290, 0.391, 0.290, 0.479, 0.304, 0.290, 0.304, 0.317, 0.331,
           0.344, 0.391, 0.304, 0.290, 0.297, 0.317, 0.337, 0.304, 0.290, 0.290,
           0.304, 0.290, 0.297, 0.324, 0.310, 0.297, 0.297, 0.628, 0.533, 0.735,
           0.398, 0.628, 0.823, 0.452, 0.331, 0.466, 0.317, 0.304, 0.290, 0.344,
           1.3, 0.466, 0.628, 0.331, 0.466, 0.317, 0.310, 0.574, 0.317, 0.310,
           1.032, 0.317, 0.331, 0.594, 0.317, 0.344, 1.113, 0.398, 0.304, 0.317,
           0.574, 0.331, 0.317, 0.938, 0.317, 0.297, 0.304, 0.499, 0.304, 0.675,
           0.317, 0.304, 0.297, 0.398, 0.344, 0.317, 0.479, 0.304, 0.297, 0.310,
           0.297, 0.358, 0.317, 0.385, 0.344, 0.452, 0.614, 0.749, 0.762, 0.641,
           0.506, 0.668, 0.708, 0.816, 0.776, 0.695, 0.587, 0.506, 0.452, 0.398,
           0.358]

wave_g7 = [8697.3, 8703.8, 8710.3, 8720.1, 8726.6, 8736.4, 8744.3, 8749.5, 8754.0, 8758.0,
           8760.6, 8764.5, 8767.7, 8771.0, 8775.6, 8779.5, 8784.1, 8788.6, 8795.1, 8801.7,
           8808.2, 8814.7, 8819.3, 8823.2, 8827.8, 8833.0, 8838.2, 8842.1, 8846.0, 8850.6,
           8855.2, 8860.4, 8864.9, 8869.5, 8873.4, 8878.6, 8883.2, 8887.8, 8891.7, 8896.2,
           8900.8, 8906.0, 8911.2, 8915.8, 8920.4, 8926.9, 8930.8, 8935.4, 8939.9, 8945.2,
           8950.4, 8954.9, 8959.5, 8964.7, 8970.0, 8974.5, 8979.1, 8984.3, 8988.9, 8992.8,
           8997.4, 9002.6, 9010.4, 9016.9, 9023.4, 9028.7, 9033.9, 9037.8, 9041.7, 9046.3,
           9052.8, 9059.3, 9065.8, 9072.4, 9076.9, 9083.5, 9088.7, 9093.9, 9099.1, 9105.0,
           9114.8, 9127.8, 9137.6, 9142.2, 9147.4, 9152.6, 9157.2, 9167.0, 9180.0, 9193.0,
           9202.8, 9207.4, 9211.3, 9215.9, 9220.4, 9225.7, 9230.9, 9236.1, 9242.0, 9247.2,
           9251.7, 9258.3, 9268.0, 9274.6, 9279.1, 9283.0, 9286.3, 9290.9, 9296.1, 9301.0]
flux_g7 = [0.344, 0.317, 0.310, 0.317, 0.310, 0.317, 0.317, 0.344, 0.850, 0.735,
           1.039, 0.398, 0.317, 1.053, 0.398, 0.331, 0.601, 0.317, 0.310, 0.364,
           0.317, 0.344, 1.3, 0.560, 0.911, 0.398, 0.331, 0.547, 0.344, 0.317,
           0.398, 0.722, 0.331, 0.317, 0.371, 1.4, 0.385, 0.344, 0.560, 0.837,
           0.358, 0.344, 1.4, 0.398, 0.344, 0.398, 0.337, 0.749, 0.398, 0.344,
           1.4, 0.398, 0.344, 0.364, 0.344, 0.398, 0.695, 0.371, 0.364, 1.019,
           0.398, 0.344, 0.358, 0.351, 0.358, 0.533, 0.371, 0.452, 0.661, 0.398,
           0.358, 0.385, 0.351, 0.358, 0.371, 0.459, 0.358, 0.526, 0.364, 0.344,
           0.344, 0.358, 0.371, 0.445, 0.425, 0.486, 0.385, 0.358, 0.358, 0.364,
           0.398, 0.452, 0.425, 0.479, 0.398, 0.378, 0.371, 0.391, 0.418, 0.385,
           0.398, 0.378, 0.391, 0.412, 0.472, 0.445, 0.479, 0.425, 0.418, 0.43]

wave_black = wave_b1 + wave_b2 + wave_b3 + wave_b4 + wave_b5 + wave_b6 + wave_b7
flux_black = flux_b1 + flux_b2 + flux_b3 + flux_b4 + flux_b5 + flux_b6 + flux_b7
wave_green = wave_g1 + wave_g2 + wave_g3 + wave_g4 + wave_g5 + wave_g6 + wave_g7
flux_green = flux_g1 + flux_g2 + flux_g3 + flux_g4 + flux_g5 + flux_g6 + flux_g7
for a, b, n in [(wave_b1, flux_b1, 1), (wave_b2, flux_b2, 2), (wave_b3, flux_b3, 3), (wave_b4, flux_b4, 4),
                (wave_b5, flux_b5, 5), (wave_b6, flux_b6, 6), (wave_b7, flux_b7, 7),
                (wave_g1, flux_g1, 11), (wave_g2, flux_g2, 12), (wave_g3, flux_g3, 13), (wave_g4, flux_g4, 14),
                (wave_g5, flux_g5, 15), (wave_g6, flux_g6, 16), (wave_g7, flux_g7, 17)]:
    if len(a) != len(b):
        raise SystemExit("length mismatch in segment %d: %d vs %d" % (n, len(a), len(b)))

FONT = "DejaVu Sans"

p = figure(width=3000, height=900, output_backend="svg", toolbar_location=None,
           x_range=Range1d(4750.0, 9300.0), y_range=Range1d(-0.878, 1.188),
           min_border_left=375, min_border_right=300, min_border_top=108, min_border_bottom=99,
           background_fill_color="white", border_fill_color="white")

p.title.text = title_text
p.title.align = "center"
p.title.text_font = FONT
p.title.text_font_size = "50px"
p.title.text_font_style = "normal"
p.title.text_color = "black"
p.title.standoff = 23

p.xgrid.grid_line_color = None
p.ygrid.grid_line_color = None
p.outline_line_color = "black"
p.outline_line_width = 2.2
p.outline_line_alpha = 1.0

p.xaxis.ticker = FixedTicker(ticks=x_ticks)
p.yaxis.ticker = FixedTicker(ticks=y_ticks)
p.yaxis.major_label_overrides = {t: s for t, s in zip(y_ticks, y_tick_labels)}

for ax in (p.xaxis[0], p.yaxis[0]):
    ax.axis_line_color = "black"
    ax.axis_line_width = 2.2
    ax.major_tick_line_color = "black"
    ax.major_tick_line_width = 2.2
    ax.major_tick_in = 0
    ax.major_tick_out = 13
    ax.minor_tick_line_color = None
    ax.major_label_text_font = FONT
    ax.major_label_text_color = "black"
    ax.axis_label_text_font = FONT
    ax.axis_label_text_font_style = "normal"
    ax.axis_label_text_color = "black"

p.xaxis.axis_label = x_label
p.xaxis.major_label_text_font_size = "27.8px"
p.xaxis.axis_label_text_font_size = "33.3px"
p.xaxis.major_label_standoff = 12
p.xaxis.axis_label_standoff = 2

p.yaxis.axis_label = y_label
p.yaxis.major_label_text_font_size = "33.3px"
p.yaxis.axis_label_text_font_size = "50px"
p.yaxis.major_label_standoff = 17
p.yaxis.axis_label_standoff = 24

p.line(wave_green, flux_green, line_color="green", line_width=1.4, line_join="round")
p.line([wave_black[0], wave_black[-1]], [zero_level, zero_level], line_color="blue", line_width=5.5)
p.line(wave_black, flux_black, line_color="black", line_width=4, line_join="round")

open("out.html", "w").write(file_html(p, INLINE))
